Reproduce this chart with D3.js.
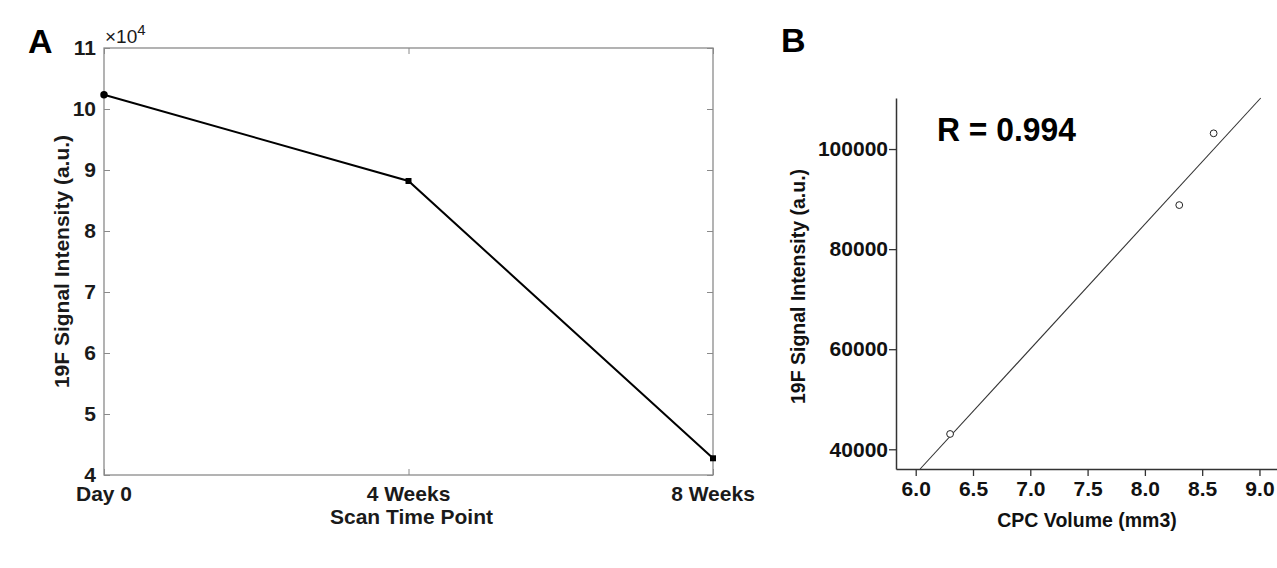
<!DOCTYPE html>
<html><head><meta charset="utf-8">
<script src="https://cdn.jsdelivr.net/npm/d3@7"></script>
<style>
html,body{margin:0;padding:0;background:#fff;}
svg{display:block;}
text{font-family:"Liberation Sans",Arial,sans-serif;}
</style></head>
<body>
<svg id="chart" width="1277" height="568"></svg>
<script>
// ----- Panel A data -----
const timePoints = ["Day 0", "4 Weeks", "8 Weeks"];
const signalA = [102340, 88200, 42740];
const yTicksA = [4, 5, 6, 7, 8, 9, 10, 11];

// ----- Panel B data -----
const cpcVolume = [6.3, 8.3, 8.6];
const signalB = [43060, 88800, 103140];
const xTicksB = [6.0, 6.5, 7.0, 7.5, 8.0, 8.5, 9.0];
const yTicksB = [40000, 60000, 80000, 100000];
const rLabel = "R = 0.994";

const svg = d3.select("#chart");

// ================= Panel A =================
const A = {l: 104, r: 713, t: 48, b: 475};
const xA = d3.scalePoint().domain(timePoints).range([A.l, A.r]).padding(0);
const yA = d3.scaleLinear().domain([4, 11]).range([A.b, A.t]);
const gA = svg.append("g");
const axisCol = "#8a8a8a";

// box
gA.append("rect").attr("x", A.l).attr("y", A.t).attr("width", A.r - A.l).attr("height", A.b - A.t)
  .attr("fill", "none").attr("stroke", axisCol).attr("stroke-width", 1.3);

// inward ticks on all four sides
const leftA = gA.append("g").attr("transform", `translate(${A.l},0)`)
  .call(d3.axisRight(yA).tickValues(yTicksA).tickSize(6).tickFormat(""));
const rightA = gA.append("g").attr("transform", `translate(${A.r},0)`)
  .call(d3.axisLeft(yA).tickValues(yTicksA).tickSize(6).tickFormat(""));
const botA = gA.append("g").attr("transform", `translate(0,${A.b})`)
  .call(d3.axisTop(xA).tickSize(6).tickFormat(""));
const topA = gA.append("g").attr("transform", `translate(0,${A.t})`)
  .call(d3.axisBottom(xA).tickSize(6).tickFormat(""));
[leftA, rightA, botA, topA].forEach(ax => {
  ax.select(".domain").remove();
  ax.selectAll("line").attr("stroke", axisCol);
});

// tick labels
gA.selectAll(".ytA").data(yTicksA).join("text")
  .attr("x", A.l - 8).attr("y", d => yA(d)).attr("dy", "0.35em")
  .attr("text-anchor", "end").attr("font-size", 21).attr("font-weight", "bold").attr("fill", "#1a1a1a")
  .text(d => d);
gA.selectAll(".xtA").data(timePoints).join("text")
  .attr("x", d => xA(d)).attr("y", A.b + 26)
  .attr("text-anchor", "middle").attr("font-size", 21).attr("font-weight", "bold").attr("fill", "#1a1a1a")
  .text(d => d);

// exponent
const expT = gA.append("text").attr("x", A.l + 1).attr("y", 43).attr("font-size", 19).attr("fill", "#1a1a1a");
expT.append("tspan").text("\u00d710");
expT.append("tspan").attr("dy", -8).attr("font-size", 15).text("4");

// axis titles
gA.append("text").attr("x", (A.l + A.r) / 2 + 3).attr("y", 524)
  .attr("text-anchor", "middle").attr("font-size", 21).attr("font-weight", "bold").attr("fill", "#1a1a1a")
  .text("Scan Time Point");
gA.append("text").attr("transform", `translate(69,${(A.t + A.b) / 2}) rotate(-90)`)
  .attr("text-anchor", "middle").attr("font-size", 21).attr("font-weight", "bold").attr("fill", "#1a1a1a")
  .text("19F Signal Intensity (a.u.)");

// line + markers
const ptsA = timePoints.map((t, i) => [xA(t), yA(signalA[i] / 1e4)]);
gA.append("path").attr("d", d3.line()(ptsA)).attr("fill", "none").attr("stroke", "#000").attr("stroke-width", 2);
gA.selectAll(".mA").data(ptsA).join("path")
  .attr("transform", d => `translate(${d[0]},${d[1]})`)
  .attr("d", (d, i) => d3.symbol().type(i === 0 ? d3.symbolCircle : d3.symbolSquare).size(i === 0 ? 44 : 36)())
  .attr("fill", "#000");

// panel letter
svg.append("text").attr("x", 28).attr("y", 53).attr("font-family", "'Open Sans',sans-serif")
  .attr("font-size", 34).attr("font-weight", "bold").attr("fill", "#000").text("A");

// ================= Panel B =================
const B = {l: 896, r: 1277, t: 98, b: 469};
const xB = d3.scaleLinear().domain([5.828, 9.153]).range([B.l, B.r]);
const yB = d3.scaleLinear().domain([36060, 110200]).range([B.b, B.t]);
const gB = svg.append("g");
const colB = "#333";

const xAxB = gB.append("g").attr("transform", `translate(0,${B.b})`)
  .call(d3.axisBottom(xB).tickValues(xTicksB).tickSize(7).tickSizeOuter(0).tickPadding(5).tickFormat(d3.format(".1f")));
const yAxB = gB.append("g").attr("transform", `translate(${B.l},0)`)
  .call(d3.axisLeft(yB).tickValues(yTicksB).tickSize(7).tickSizeOuter(0).tickPadding(1).tickFormat(d3.format("d")));
[xAxB, yAxB].forEach(ax => {
  ax.select(".domain").attr("stroke", colB).attr("stroke-width", 1.5);
  ax.selectAll(".tick line").attr("stroke", colB).attr("stroke-width", 1.3);
  ax.selectAll(".tick text").attr("font-size", 21).attr("font-weight", "bold").attr("fill", "#111")
    .attr("font-family", "'Liberation Sans',Arial,sans-serif");
});

// regression line (least squares on the points), clipped to plot area
const mx = d3.mean(cpcVolume), my = d3.mean(signalB);
const sxy = d3.sum(cpcVolume, (x, i) => (x - mx) * (signalB[i] - my));
const sxx = d3.sum(cpcVolume, x => (x - mx) * (x - mx));
const slope = sxy / sxx, icpt = my - slope * mx;
const yDom = yB.domain();
const x0 = Math.max(xB.domain()[0], (yDom[0] - icpt) / slope);
const x1 = Math.min(xB.domain()[1], (yDom[1] - icpt) / slope);
gB.append("line")
  .attr("x1", xB(x0)).attr("y1", yB(icpt + slope * x0))
  .attr("x2", xB(x1)).attr("y2", yB(icpt + slope * x1))
  .attr("stroke", "#333").attr("stroke-width", 1.1);

gB.selectAll(".ptB").data(cpcVolume).join("circle")
  .attr("cx", d => xB(d)).attr("cy", (d, i) => yB(signalB[i])).attr("r", 3.4)
  .attr("fill", "#fff").attr("stroke", "#222").attr("stroke-width", 1);

gB.append("text").attr("x", 937).attr("y", 141).attr("font-family", "'Open Sans',sans-serif")
  .attr("font-size", 34).attr("font-weight", "bold").attr("fill", "#000")
  .attr("textLength", 139).attr("lengthAdjust", "spacingAndGlyphs").text(rLabel);

gB.append("text").attr("x", 1087).attr("y", 527)
  .attr("text-anchor", "middle").attr("font-size", 19.5).attr("font-weight", "bold").attr("fill", "#111")
  .text("CPC Volume (mm3)");
gB.append("text").attr("transform", `translate(805,${(B.t + B.b) / 2 + 3}) rotate(-90)`)
  .attr("text-anchor", "middle").attr("font-size", 19.5).attr("font-weight", "bold").attr("fill", "#111")
  .text("19F Signal Intensity (a.u.)");

svg.append("text").attr("x", 781).attr("y", 52).attr("font-family", "'Open Sans',sans-serif")
  .attr("font-size", 34).attr("font-weight", "bold").attr("fill", "#000").text("B");
</script>
</body></html>
